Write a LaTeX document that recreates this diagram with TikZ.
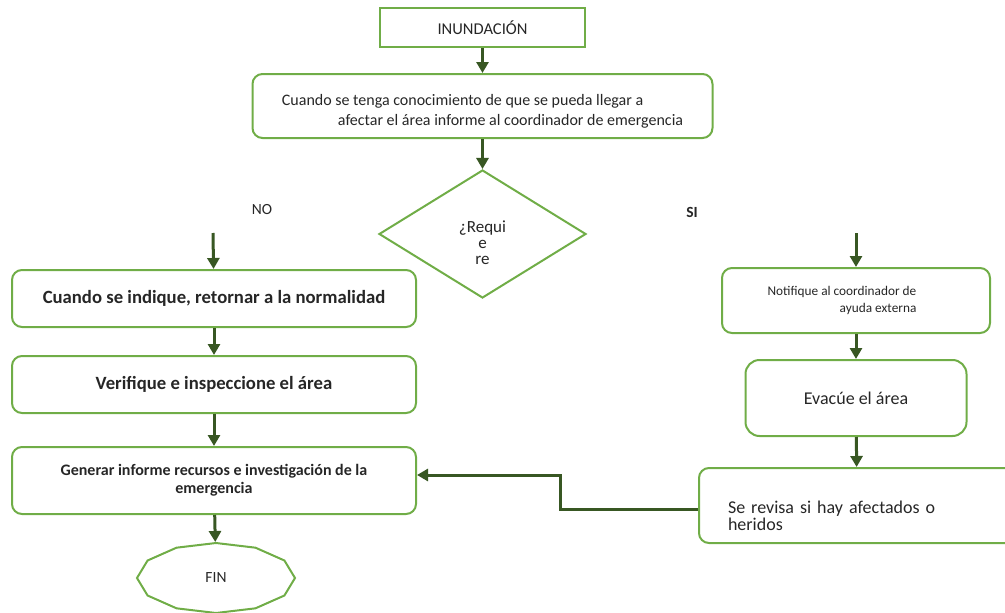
\documentclass[tikz,border=0pt]{standalone}
\usepackage{fontspec}
\setmainfont{Carlito}
\usetikzlibrary{arrows.meta,shapes.geometric}
\definecolor{vclaro}{RGB}{112,173,71}
\definecolor{voscuro}{RGB}{56,87,35}
\definecolor{texto}{RGB}{38,38,38}

\begin{document}
\begin{tikzpicture}[x=1pt,y=-1pt,line width=2pt,>={Triangle[length=11pt,width=12pt]},
  caja/.style={draw=vclaro,rounded corners=10pt,text=texto,inner sep=0pt},
  flecha/.style={->,draw=voscuro,line width=3pt}]
  \useasboundingbox (0,0) rectangle (1005,613);
  \clip (0,0) rectangle (1005,613);
  \coordinate (no) at (213,233);
  \coordinate (si) at (856,233);
  \coordinate (codo) at (560,475);
  \node[draw=vclaro,minimum width=205pt,minimum height=39pt,text=texto,
    font=\fontsize{16.5}{18}\selectfont] (inund) at (482.5,27.5) {INUNDACIÓN};
  \node[caja,minimum width=460pt,minimum height=64pt,align=left,
    font=\fontsize{16}{20}\selectfont] (aviso) at (482.5,106)
    {\rule{0pt}{22pt}Cuando se tenga conocimiento de que se pueda llegar a\\
     \hspace*{56pt}afectar el área informe al coordinador de emergencia};
  \node[diamond,draw=vclaro,aspect=1.6,minimum width=207pt,minimum height=128pt,
    inner sep=0pt,text=texto,align=center,font=\fontsize{17}{16}\selectfont]
    (decision) at (482.5,234) {\rule{0pt}{30pt}¿Requi\\e\\re};
  \node[text=texto,font=\fontsize{15.5}{18}\selectfont] (etno) at (262,210) {NO};
  \node[text=texto,font=\bfseries\fontsize{15.5}{18}\selectfont] (etsi) at (692,212) {SI};
  % rama NO
  \node[caja,minimum width=404pt,minimum height=57pt,font=\bfseries\fontsize{18.7}{20}\selectfont]
    (normal) at (214,298.5) {Cuando se indique, retornar a la normalidad};
  \node[caja,minimum width=404pt,minimum height=57pt,font=\bfseries\fontsize{18.7}{20}\selectfont]
    (verif) at (214,384.5) {Verifique e inspeccione el área};
  \node[caja,minimum width=404pt,minimum height=67pt,align=center,
    font=\bfseries\fontsize{16}{18}\selectfont]
    (informe) at (214,480.5) {Generar informe recursos e investigación de la\\emergencia};
  \node[ellipse,minimum width=158pt,minimum height=70pt,text=texto,
    font=\fontsize{15.5}{18}\selectfont] (fin) at (216,578) {FIN};
  \draw[vclaro] ([shift={(79,0)}]fin.center)
    \foreach \a in {30,60,...,330}{ -- ([shift={({79*cos(\a)},{35*sin(\a)})}]fin.center)} -- cycle;
  % rama SI
  \node[caja,minimum width=268pt,minimum height=65pt,align=right,
    font=\fontsize{13.3}{17}\selectfont]
    (notif) at (856,300.5) {Notifique al coordinador de\hspace*{28pt}\\ayuda externa\hspace*{28pt}};
  \node[caja,rounded corners=14pt,minimum width=221pt,minimum height=76pt,
    font=\fontsize{18}{20}\selectfont] (evac) at (856,398) {Evacúe el área};
  \node[caja,minimum width=316pt,minimum height=75pt,text width=258pt,
    inner xsep=29pt,align=left,font=\fontsize{18}{15}\selectfont]
    (revisa) at (857,505.5) {\rule{0pt}{33pt}Se revisa si hay afectados o\\heridos};
  % conectores
  \draw[flecha] (inund) -- (aviso);
  \draw[flecha] (aviso) -- (decision);
  \draw[flecha] (no) -- (normal);
  \draw[flecha] (normal) -- (verif);
  \draw[flecha] (verif) -- (informe);
  \draw[flecha] (informe) -- (fin);
  \draw[flecha] (si) -- (notif);
  \draw[flecha] (notif) -- (evac);
  \draw[flecha] (evac) -- (revisa);
  \draw[flecha] ([yshift=-4pt]revisa.west) -| (codo) -- (informe.east |- codo);
\end{tikzpicture}
\end{document}
